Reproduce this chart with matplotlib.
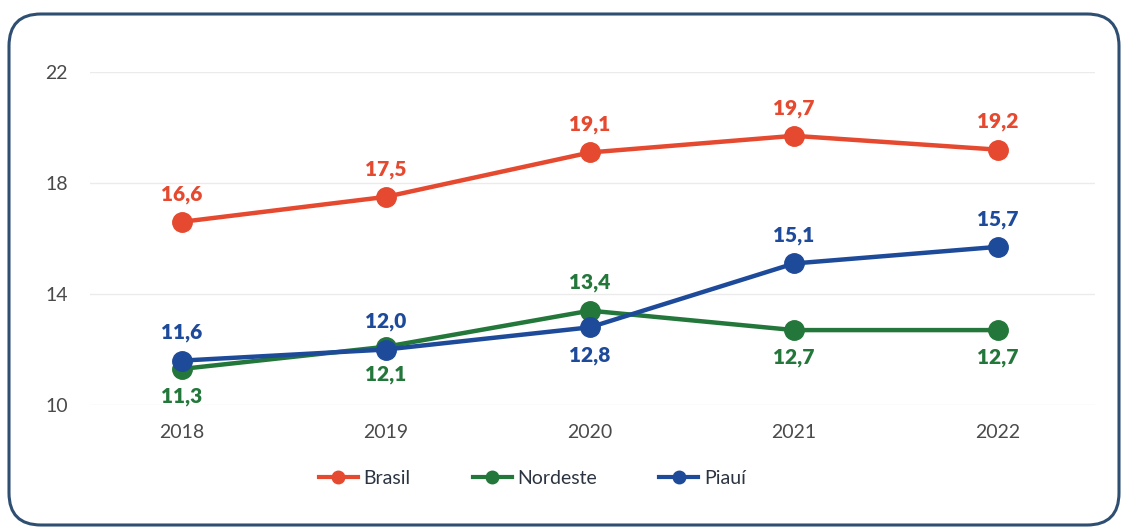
import matplotlib.pyplot as plt
from matplotlib.patches import FancyBboxPatch
from matplotlib.lines import Line2D

plt.rcParams['font.family'] = ['Lato', 'DejaVu Sans']

# dados
anos = [2018, 2019, 2020, 2021, 2022]
brasil = [16.6, 17.5, 19.1, 19.7, 19.2]
nordeste = [11.3, 12.1, 13.4, 12.7, 12.7]
piaui = [11.6, 12.0, 12.8, 15.1, 15.7]
yticks = [10, 14, 18, 22]

cor_br = '#E5492F'
cor_ne = '#23773A'
cor_pi = '#1E4A9A'

fig = plt.figure(figsize=(11.23, 5.30), dpi=100)

# moldura arredondada
bg = fig.add_axes([0, 0, 1, 1])
bg.set_xlim(0, 1123)
bg.set_ylim(530, 0)
bg.axis('off')
moldura = FancyBboxPatch((9, 14), 1110, 511,
                         boxstyle='round,pad=0,rounding_size=32',
                         fc='white', ec='#2E4E72', lw=2.2)
bg.add_patch(moldura)

ax = fig.add_axes([0.0801, 0.2358, 0.895, 0.6284])
ax.patch.set_alpha(0)

def serie(vals, cor, nome):
    ax.plot(anos, vals, color=cor, lw=3.2, marker='o', ms=14,
            clip_on=False, zorder=3, label=nome)

serie(brasil, cor_br, 'Brasil')
serie(nordeste, cor_ne, 'Nordeste')
serie(piaui, cor_pi, 'Piauí')

# rótulos de valor (acima = +, abaixo = -)
pos_br = [1, 1, 1, 1, 1]
pos_ne = [-1, -1, 1, -1, -1]
pos_pi = [1, 1, -1, 1, 1]

def rotulos(vals, pos, cor):
    for x, v, p in zip(anos, vals, pos):
        ax.annotate(f'{v:.1f}'.replace('.', ','), (x, v),
                    xytext=(0, 20 * p), textcoords='offset points',
                    ha='center', va='center', fontsize=15,
                    fontweight='heavy', color=cor, zorder=4)

rotulos(brasil, pos_br, cor_br)
rotulos(nordeste, pos_ne, cor_ne)
rotulos(piaui, pos_pi, cor_pi)

ax.set_xlim(2017.55, 2022.475)
ax.set_ylim(10, 22)
ax.set_yticks(yticks)
ax.set_xticks(anos)
ax.set_yticklabels([str(t) for t in yticks])
ax.tick_params(length=0, labelsize=14, labelcolor='#4a4a4a')
ax.tick_params(axis='y', pad=16)
ax.tick_params(axis='x', pad=14)
ax.grid(axis='y', color='#ebebeb', lw=1)
ax.set_axisbelow(True)
for s in ax.spines.values():
    s.set_visible(False)

handles = [Line2D([], [], color=c, lw=3, marker='o', ms=9)
           for c in (cor_br, cor_ne, cor_pi)]
fig.legend(handles, ['Brasil', 'Nordeste', 'Piauí'], loc='center',
           bbox_to_anchor=(0.474, 0.098), ncol=3, frameon=False,
           fontsize=14, handlelength=2.0, handletextpad=0.3,
           columnspacing=3.2, labelcolor='#2b3440')

fig.savefig('out.png', dpi=100)
